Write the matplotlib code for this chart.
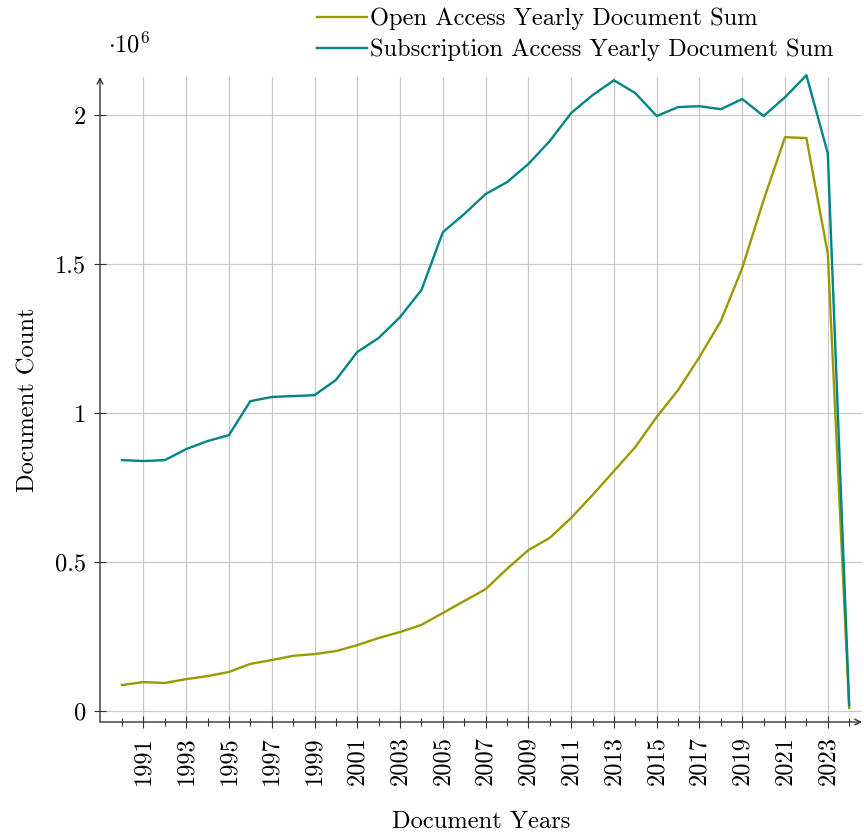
import matplotlib
matplotlib.use("Agg")
import matplotlib.pyplot as plt
from matplotlib.ticker import FixedLocator, FuncFormatter

years = list(range(1990, 2025))
open_access = [0.087, 0.097, 0.094, 0.107, 0.117, 0.131, 0.158, 0.171, 0.185, 0.191,
               0.201, 0.221, 0.245, 0.265, 0.289, 0.329, 0.369, 0.409, 0.477, 0.540,
               0.581, 0.648, 0.725, 0.805, 0.886, 0.987, 1.077, 1.188, 1.309, 1.487,
               1.715, 1.926, 1.923, 1.535, 0.010]
subscription = [0.842, 0.839, 0.842, 0.879, 0.906, 0.926, 1.040, 1.054, 1.057, 1.060,
                1.111, 1.205, 1.252, 1.322, 1.413, 1.607, 1.668, 1.735, 1.775, 1.836,
                1.913, 2.007, 2.067, 2.117, 2.074, 1.997, 2.027, 2.030, 2.020, 2.054,
                1.997, 2.060, 2.134, 1.872, 0.020]
major_years = list(range(1991, 2024, 2))
minor_years = list(range(1990, 2025, 2))
y_ticks = [0, 0.5, 1, 1.5, 2]

plt.rcParams['font.family'] = 'cmr10'
plt.rcParams['mathtext.fontset'] = 'cm'
plt.rcParams['axes.unicode_minus'] = False

FS = 17.6
W, H = 864, 834
fig = plt.figure(figsize=(W / 100, H / 100), dpi=100)
left, right, top, bottom = 100, 862, 77, 722
ax = fig.add_axes([left / W, 1 - bottom / H, (right - left) / W, (bottom - top) / H])

olive = '#999900'
teal = '#008585'
ax.plot(years, open_access, color=olive, lw=1.7, label='Open Access Yearly Document Sum', clip_on=False, zorder=3)
ax.plot(years, subscription, color=teal, lw=1.7, label='Subscription Access Yearly Document Sum', clip_on=False, zorder=3)

ax.set_xlim(1988.97, 2024.6)
ax.set_ylim(-0.037, 2.128)

ax.xaxis.set_major_locator(FixedLocator(major_years))
ax.xaxis.set_minor_locator(FixedLocator(minor_years))
ax.yaxis.set_major_locator(FixedLocator(y_ticks))
ax.yaxis.set_major_formatter(FuncFormatter(lambda v, p: '%g' % v))

ax.grid(True, which='major', color='#c8c8c8', lw=0.9)
ax.set_axisbelow(True)

for s in ['top', 'right', 'left', 'bottom']:
    ax.spines[s].set_visible(False)
axc = '#333333'
ax.annotate('', xy=(0, 1.0), xytext=(0, 0), xycoords='axes fraction',
            arrowprops=dict(arrowstyle='->', color=axc, lw=1.0, shrinkA=0, shrinkB=0))
ax.annotate('', xy=(1.0, 0), xytext=(0, 0), xycoords='axes fraction',
            arrowprops=dict(arrowstyle='->', color=axc, lw=1.0, shrinkA=0, shrinkB=0))

ax.tick_params(axis='x', which='major', direction='inout', length=8, width=0.8, color=axc,
               labelsize=FS, labelrotation=90, pad=6)
ax.tick_params(axis='x', which='minor', direction='inout', length=6, width=0.8, color=axc)
ax.tick_params(axis='y', which='major', direction='inout', length=8, width=0.8, color=axc,
               labelsize=FS, pad=6)

ax.set_xlabel('Document Years', fontsize=FS, labelpad=19)
ax.set_ylabel('Document Count', fontsize=FS, labelpad=11)

fig.text(108 / W, 1 - 45 / H, r'$\cdot 10^{6}$', fontsize=FS, va='center', ha='left')

leg = ax.legend(loc='upper left', bbox_to_anchor=(313 / W, 1 - 4 / H), bbox_transform=fig.transFigure,
                frameon=False, fontsize=FS, handlelength=2.05, handletextpad=0.15,
                labelspacing=0.35, borderaxespad=0, borderpad=0.15)

fig.savefig('out.png', dpi=100)
